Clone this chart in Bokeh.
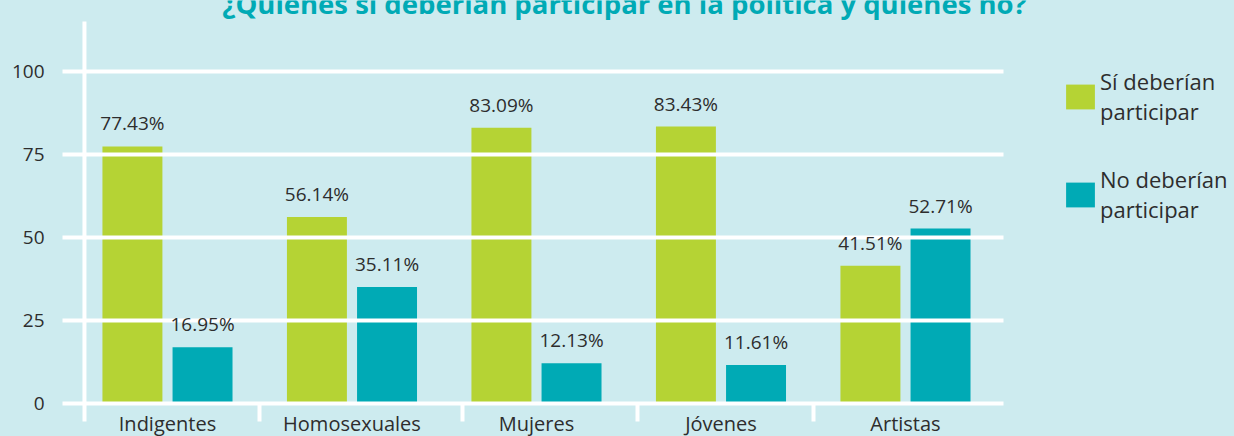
from bokeh.plotting import figure
from bokeh.models import (ColumnDataSource, FixedTicker, Range1d, Legend, LegendItem,
                          Label, GlobalInlineStyleSheet)
from bokeh.core.properties import value
from bokeh.embed import file_html
from bokeh.resources import INLINE

# ---- data -------------------------------------------------------------
categories = ["Indigentes", "Homosexuales", "Mujeres", "Jóvenes", "Artistas"]
si_values = [77.43, 56.14, 83.09, 83.43, 41.51]
no_values = [16.95, 35.11, 12.13, 11.61, 52.71]
series_names = ["Sí deberían\nparticipar", "No deberían\nparticipar"]
y_ticks = [0, 25, 50, 75, 100]
title_text = "¿Quiénes sí deberían participar en la política y quiénes no?"

# ---- style ------------------------------------------------------------
BG = "#cdebef"
GREEN = "#b5d334"
TEAL = "#00aab5"
TXT = "#2d2d2d"
FONT = "Open Sans"

W = 1234
LEFT = 62
PX_PER_UNIT_X = 184.5
PX_PER_UNIT_Y = 3.32
FRAME_BOTTOM = 403
X0 = -0.569                      # left edge of plotting area (category units)
X_END_AXIS = 4.531               # right end of grid / axis line
X_END_FRAME = X0 + (W - LEFT) / PX_PER_UNIT_X

idx = list(range(len(categories)))
si_x = [i - 0.19 for i in idx]
no_x = [i + 0.19 for i in idx]

p = figure(frame_width=W - LEFT, frame_height=FRAME_BOTTOM,
           output_backend="svg", toolbar_location=None,
           x_range=Range1d(X0, X_END_FRAME),
           y_range=Range1d(0, FRAME_BOTTOM / PX_PER_UNIT_Y),
           min_border_left=LEFT, min_border_right=0, min_border_top=0,
           min_border_bottom=33)
p.stylesheets = [GlobalInlineStyleSheet(
    css=f"html, body {{ margin: 0; padding: 0; background: {BG}; overflow: hidden; }}")]
p.background_fill_color = BG
p.border_fill_color = BG
p.outline_line_color = None

src_si = ColumnDataSource(dict(x=si_x, top=si_values,
                               lab=[f"{v:.2f}%" for v in si_values]))
src_no = ColumnDataSource(dict(x=no_x, top=no_values,
                               lab=[f"{v:.2f}%" for v in no_values]))

r_si = p.vbar(x="x", top="top", width=0.325, bottom=0, source=src_si,
              fill_color=GREEN, line_color=None)
r_no = p.vbar(x="x", top="top", width=0.325, bottom=0, source=src_no,
              fill_color=TEAL, line_color=None)

for src in (src_si, src_no):
    p.text(x="x", y="top", text="lab", source=src, text_align="center",
           text_baseline="alphabetic", y_offset=-23, text_color=TXT,
           text_font=value(FONT), text_font_size="19px", level="annotation")

# vertical separator line at the start of the category axis
sep_ticks = [-0.45, 0.5, 1.6, 2.55, 3.5]
p.segment(x0=[sep_ticks[0]], x1=[sep_ticks[0]], y0=[0],
          y1=[(FRAME_BOTTOM - 21) / PX_PER_UNIT_Y],
          line_color="white", line_width=4)

# grid (drawn over the bars, as in the reference)
p.xgrid.grid_line_color = None
p.ygrid.ticker = FixedTicker(ticks=y_ticks)
p.ygrid.grid_line_color = "white"
p.ygrid.grid_line_width = 4
p.ygrid.cross_bounds = (X0, X_END_AXIS)
p.ygrid.level = "guide"

# y axis
p.yaxis.ticker = FixedTicker(ticks=y_ticks)
p.yaxis.axis_line_color = None
p.yaxis.major_tick_line_color = None
p.yaxis.minor_tick_line_color = None
p.yaxis.major_tick_out = 0
p.yaxis.major_tick_in = 0
p.yaxis.major_label_standoff = 18
p.yaxis.major_label_text_font = FONT
p.yaxis.major_label_text_font_size = "19px"
p.yaxis.major_label_text_color = TXT

# x axis
p.xaxis.ticker = FixedTicker(ticks=idx, minor_ticks=sep_ticks)
p.xaxis.bounds = (X0, X_END_AXIS)
p.xaxis.major_label_overrides = {i: c for i, c in zip(idx, categories)}
p.xaxis.axis_line_color = "white"
p.xaxis.axis_line_width = 4
p.xaxis.major_tick_line_color = None
p.xaxis.major_tick_out = 0
p.xaxis.major_tick_in = 0
p.xaxis.minor_tick_line_color = "white"
p.xaxis.minor_tick_line_width = 4
p.xaxis.minor_tick_out = 0
p.xaxis.minor_tick_in = -18
p.xaxis.major_label_standoff = 6
p.xaxis.major_label_text_font = FONT
p.xaxis.major_label_text_font_size = "20px"
p.xaxis.major_label_text_color = TXT

# title (partly cut off at the top, as in the reference)
p.add_layout(Label(x=2.477, y=(FRAME_BOTTOM - 2.5) / PX_PER_UNIT_Y, text=title_text,
                   text_align="center", text_baseline="alphabetic",
                   text_font=FONT, text_font_style="bold", text_font_size="27.5px",
                   text_color=TEAL))

legend = Legend(items=[LegendItem(label=series_names[0], renderers=[r_si]),
                       LegendItem(label=series_names[1], renderers=[r_no])],
                location=(1000, 179), margin=0, padding=0, spacing=38,
                glyph_width=36, glyph_height=31, label_standoff=2,
                label_text_font=FONT, label_text_font_size="22px",
                label_text_line_height=0.85, label_text_color=TXT,
                background_fill_alpha=0, border_line_alpha=0)
p.add_layout(legend)

open("out.html", "w").write(file_html(p, INLINE))
